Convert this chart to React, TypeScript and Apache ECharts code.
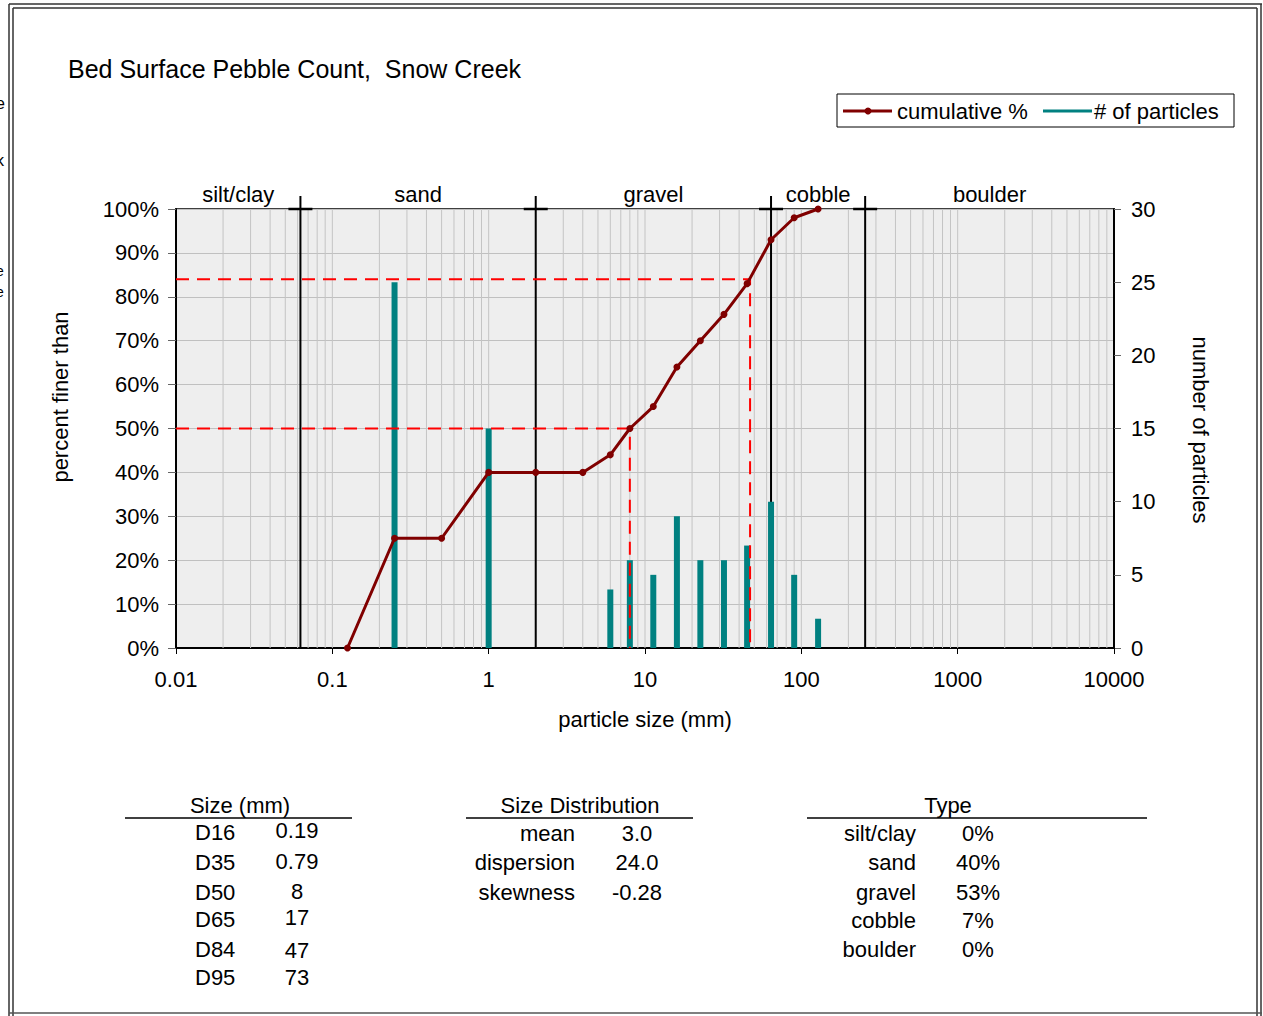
import React, { useEffect, useRef } from 'react';
import * as echarts from 'echarts';

// ---------- data ----------
const sizes = [0.125, 0.25, 0.5, 1, 2, 4, 6, 8, 11.3, 16, 22.6, 32, 45, 64, 90, 128];
const cumulative = [0, 25, 25, 40, 40, 40, 44, 50, 55, 64, 70, 76, 83, 93, 98, 100];
const counts = [0, 25, 0, 15, 0, 0, 4, 6, 5, 9, 6, 6, 7, 10, 5, 2];
const classNames = ['silt/clay', 'sand', 'gravel', 'cobble', 'boulder'];
const classBounds = [0.01, 0.0625, 2, 64, 256, 10000];
const xTickLabels = ['0.01', '0.1', '1', '10', '100', '1000', '10000'];
const dLabels = ['D16', 'D35', 'D50', 'D65', 'D84', 'D95'];
const dValues = ['0.19', '0.79', '8', '17', '47', '73'];
const distLabels = ['mean', 'dispersion', 'skewness'];
const distValues = ['3.0', '24.0', '-0.28'];
const typeLabels = ['silt/clay', 'sand', 'gravel', 'cobble', 'boulder'];
const typeValues = ['0%', '40%', '53%', '7%', '0%'];
const d50 = { pct: 50, size: 8 };
const d84 = { pct: 84, size: 47 };

const FONT = '"Liberation Sans", Arial, sans-serif';

const minorGrid: number[] = [];
for (let e = -2; e < 4; e++) {
  for (let m = 2; m <= 10; m++) {
    const v = m * Math.pow(10, e);
    if (v < 10000) minorGrid.push(v);
  }
}

function txt(text: string, x: number, y: number, align = 'left', size = 22, extra: any = {}) {
  return {
    type: 'text',
    x,
    y,
    silent: true,
    ...extra,
    style: {
      text,
      fill: '#000',
      font: `${size}px ${FONT}`,
      textAlign: align,
      textVerticalAlign: 'middle',
    },
  };
}

function hline(x1: number, x2: number, y: number, w = 1.5, color = '#000') {
  return { type: 'line', silent: true, shape: { x1, y1: y, x2, y2: y }, style: { stroke: color, lineWidth: w } };
}
function vline(x: number, y1: number, y2: number, w = 1.5, color = '#000') {
  return { type: 'line', silent: true, shape: { x1: x, y1, x2: x, y2 }, style: { stroke: color, lineWidth: w } };
}

export default function App() {
  const ref = useRef<HTMLDivElement>(null);
  useEffect(() => {
    if (!ref.current) return;
    const chart = echarts.init(ref.current, undefined, { renderer: 'svg' });

    const dRowY = [832, 862, 892, 919, 949, 977];
    const dValY = [830, 861, 891, 917, 950, 977];
    const distY = [833, 862, 892];
    const typeY = [833, 862, 892, 920, 949];

    const graphic: any[] = [
      // frame
      vline(9, 4, 1016, 1.5, '#333'),
      vline(13, 8, 1016, 1.5, '#333'),
      hline(9, 1262, 4, 1.5, '#333'),
      hline(13, 1257, 8, 1.5, '#333'),
      vline(1261, 4, 1016, 1.5, '#333'),
      vline(1257, 8, 1016, 1.5, '#333'),
      hline(9, 1262, 1013, 1.5, '#555'),
      // cut-off glyph fragments at left edge
      txt('e', -4, 103, 'left', 16),
      txt('k', -4, 160, 'left', 16),
      txt('e', -4, 271, 'left', 14),
      txt('e', -4, 292, 'left', 14),
      // title
      txt('Bed Surface Pebble Count,  Snow Creek', 68, 69, 'left', 25),
      // axis names
      txt('percent finer than', 60, 397, 'center', 22, { rotation: Math.PI / 2 }),
      txt('number of particles', 1200, 430, 'center', 22, { rotation: -Math.PI / 2 }),
      txt('particle size (mm)', 645, 719, 'center', 22),
      // legend
      {
        type: 'rect',
        silent: true,
        shape: { x: 837, y: 94, width: 397, height: 33 },
        style: { fill: '#fff', stroke: '#000', lineWidth: 1 },
      },
      hline(843, 892, 111, 3, '#800000'),
      { type: 'circle', silent: true, shape: { cx: 868, cy: 111, r: 3.5 }, style: { fill: '#800000' } },
      txt('cumulative %', 897, 111, 'left', 22),
      hline(1043, 1092, 111, 3, '#008080'),
      txt('# of particles', 1094, 111, 'left', 22),
      // tables
      txt('Size (mm)', 240, 805, 'center', 22),
      hline(125, 352, 818, 1.5),
      txt('Size Distribution', 580, 805, 'center', 22),
      hline(466, 693, 818, 1.5),
      txt('Type', 948, 805, 'center', 22),
      hline(807, 1147, 818, 1.5),
    ];
    dLabels.forEach((l, i) => graphic.push(txt(l, 195, dRowY[i], 'left', 22)));
    dValues.forEach((v, i) => graphic.push(txt(v, 297, dValY[i], 'center', 22)));
    distLabels.forEach((l, i) => graphic.push(txt(l, 575, distY[i], 'right', 22)));
    distValues.forEach((v, i) => graphic.push(txt(v, 637, distY[i], 'center', 22)));
    typeLabels.forEach((l, i) => graphic.push(txt(l, 916, typeY[i], 'right', 22)));
    typeValues.forEach((v, i) => graphic.push(txt(v, 978, typeY[i], 'center', 22)));

    const barData = sizes.map((s, i) => [s, counts[i]]).filter((d) => d[1] > 0);
    const classData = classNames.map((n, i) => [classBounds[i], 100, classBounds[i + 1]]);
    const boundaryData = classBounds.slice(1, -1).map((b) => [b, 0]);

    const option: any = {
      animation: false,
      backgroundColor: '#fff',
      textStyle: { fontFamily: FONT },
      grid: {
        left: 176,
        top: 209,
        width: 938,
        height: 439,
        show: true,
        backgroundColor: '#eeeeee',
        borderColor: '#000',
        borderWidth: 1.5,
      },
      xAxis: {
        type: 'log',
        logBase: 10,
        min: 0.01,
        max: 10000,
        axisLine: { show: true, onZero: false, lineStyle: { color: '#000', width: 2 } },
        axisTick: { show: true, length: 6, lineStyle: { color: '#000' } },
        splitLine: { show: false },
        minorTick: { show: false },
        axisLabel: {
          color: '#000',
          fontSize: 22,
          fontFamily: FONT,
          margin: 20,
          formatter: (v: number) => {
            const i = Math.round(Math.log10(v)) + 2;
            return xTickLabels[i] ?? '';
          },
        },
      },
      yAxis: [
        {
          type: 'value',
          min: 0,
          max: 100,
          interval: 10,
          axisLine: { show: true, lineStyle: { color: '#000', width: 2 } },
          axisTick: { show: true, length: 8, lineStyle: { color: '#666' } },
          splitLine: { show: true, lineStyle: { color: '#c0c0c0', width: 1 } },
          axisLabel: { color: '#000', fontSize: 22, fontFamily: FONT, margin: 17, formatter: '{value}%' },
        },
        {
          type: 'value',
          position: 'right',
          min: 0,
          max: 30,
          interval: 5,
          axisLine: { show: true, lineStyle: { color: '#000', width: 2 } },
          axisTick: { show: true, length: 7, lineStyle: { color: '#666' } },
          splitLine: { show: false },
          axisLabel: { color: '#000', fontSize: 22, fontFamily: FONT, margin: 17 },
        },
      ],
      graphic,
      series: [
        {
          type: 'custom',
          name: 'minor grid',
          silent: true,
          z: 1,
          data: minorGrid.map((v) => [v, 0]),
          renderItem: (params: any, api: any) => {
            const x = api.value(0);
            const p0 = api.coord([x, 0]);
            const p1 = api.coord([x, 100]);
            return {
              type: 'line',
              shape: { x1: p0[0], y1: p0[1], x2: p1[0], y2: p1[1] },
              style: { stroke: '#c4c4c4', lineWidth: 1 },
            };
          },
        },
        {
          type: 'custom',
          name: 'class boundaries',
          silent: true,
          z: 2,
          data: boundaryData,
          renderItem: (params: any, api: any) => {
            const x = api.value(0);
            const p0 = api.coord([x, 0]);
            const p1 = api.coord([x, 100]);
            return {
              type: 'group',
              children: [
                {
                  type: 'line',
                  shape: { x1: p0[0], y1: p0[1], x2: p1[0], y2: p1[1] - 13 },
                  style: { stroke: '#000', lineWidth: 2 },
                },
                {
                  type: 'line',
                  shape: { x1: p1[0] - 12, y1: p1[1], x2: p1[0] + 12, y2: p1[1] },
                  style: { stroke: '#000', lineWidth: 2.5 },
                },
              ],
            };
          },
        },
        {
          type: 'custom',
          name: 'class labels',
          silent: true,
          z: 2,
          data: classData,
          renderItem: (params: any, api: any) => {
            const a = api.coord([api.value(0), 100]);
            const b = api.coord([api.value(2), 100]);
            return {
              type: 'text',
              x: (a[0] + b[0]) / 2,
              y: a[1] - 15,
              style: {
                text: classNames[params.dataIndex],
                fill: '#000',
                font: `22px ${FONT}`,
                textAlign: 'center',
                textVerticalAlign: 'middle',
              },
            };
          },
        },
        {
          type: 'custom',
          name: '# of particles',
          silent: true,
          yAxisIndex: 1,
          z: 3,
          data: barData,
          renderItem: (params: any, api: any) => {
            const p0 = api.coord([api.value(0), 0]);
            const p1 = api.coord([api.value(0), api.value(1)]);
            return {
              type: 'rect',
              shape: { x: p0[0] - 3, y: p1[1], width: 6, height: p0[1] - p1[1] },
              style: { fill: '#008080' },
            };
          },
        },
        {
          type: 'line',
          name: 'D84',
          silent: true,
          z: 4,
          symbol: 'none',
          data: [
            [0.01, d84.pct],
            [d84.size, d84.pct],
            [d84.size, 0],
          ],
          lineStyle: { color: '#ff0000', width: 2, type: [13, 8] },
        },
        {
          type: 'line',
          name: 'D50',
          silent: true,
          z: 4,
          symbol: 'none',
          data: [
            [0.01, d50.pct],
            [d50.size, d50.pct],
            [d50.size, 0],
          ],
          lineStyle: { color: '#ff0000', width: 2, type: [13, 8] },
        },
        {
          type: 'line',
          name: 'cumulative %',
          silent: true,
          z: 5,
          symbol: 'circle',
          symbolSize: 7,
          data: sizes.map((s, i) => [s, cumulative[i]]),
          itemStyle: { color: '#800000' },
          lineStyle: { color: '#800000', width: 3 },
        },
      ],
    };
    chart.setOption(option);
    return () => chart.dispose();
  }, []);
  return (
    <div
      ref={ref}
      style={{ position: 'absolute', left: 0, top: 0, width: 1263, height: 1016 }}
    />
  );
}
